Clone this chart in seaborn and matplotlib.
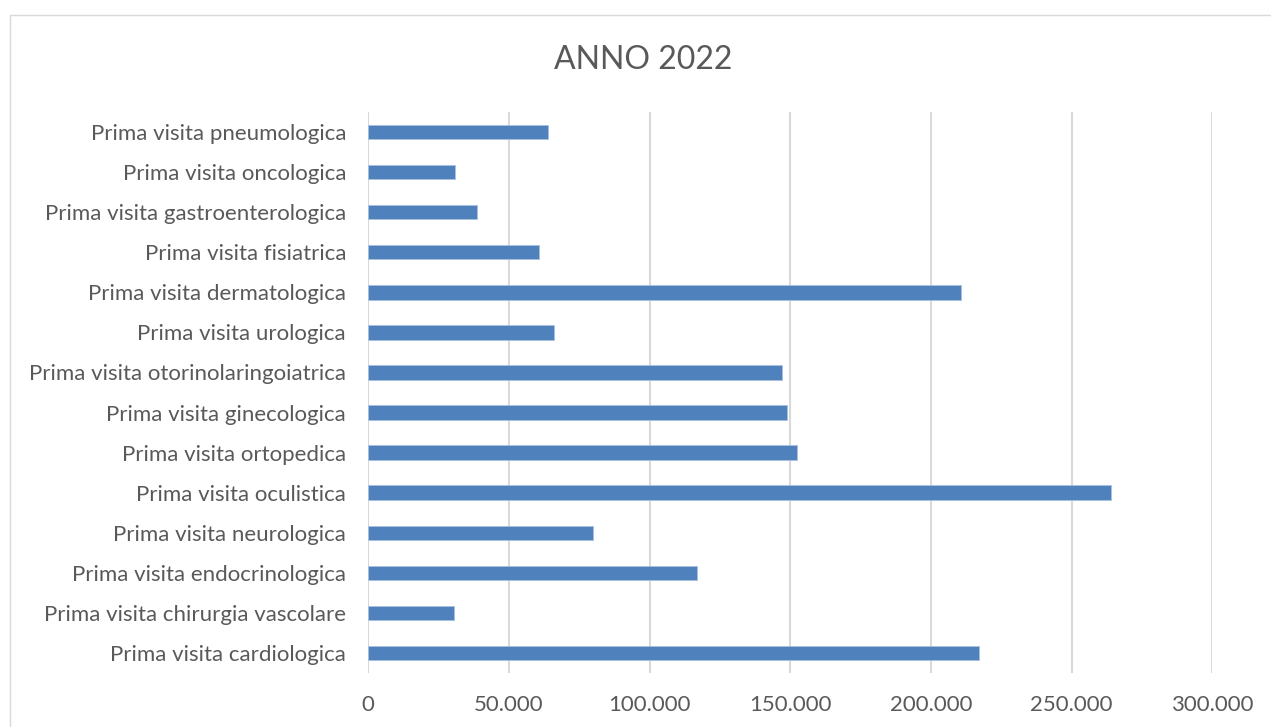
import matplotlib
matplotlib.use("Agg")
import matplotlib.pyplot as plt
import seaborn as sns
import pandas as pd
from matplotlib.lines import Line2D
from matplotlib.ticker import FuncFormatter

categories = [
    "Prima visita pneumologica",
    "Prima visita oncologica",
    "Prima visita gastroenterologica",
    "Prima visita fisiatrica",
    "Prima visita dermatologica",
    "Prima visita urologica",
    "Prima visita otorinolaringoiatrica",
    "Prima visita ginecologica",
    "Prima visita ortopedica",
    "Prima visita oculistica",
    "Prima visita neurologica",
    "Prima visita endocrinologica",
    "Prima visita chirurgia vascolare",
    "Prima visita cardiologica",
]
values = [63970, 30900, 38700, 60650, 210700, 66000, 147000, 148800,
          152350, 263850, 79850, 116900, 30450, 216900]
x_ticks = [0, 50000, 100000, 150000, 200000, 250000, 300000]
title = "ANNO 2022"

df = pd.DataFrame({"cat": categories, "val": values})

sns.set_theme(style="white")
plt.rcParams["font.family"] = ["Lato", "DejaVu Sans"]

text_color = "#595959"
grid_color = "#d9d9d9"
bar_color = "#4f81bd"

fig = plt.figure(figsize=(12.71, 7.27), dpi=100)
ax = fig.add_axes([368.3 / 1271, 54 / 727, (1212.3 - 368.3) / 1271, (673 - 112) / 727])

sns.barplot(data=df, x="val", y="cat", orient="h", order=categories,
            color=bar_color, saturation=1, width=0.36, ax=ax,
            edgecolor="#a9c1df", linewidth=0.6)

ax.set_xlim(0, 300000)
ax.set_xticks(x_ticks)
ax.xaxis.set_major_formatter(FuncFormatter(lambda v, p: f"{int(v):,}".replace(",", ".")))
ax.grid(axis="x", color=grid_color, linewidth=1.5)
ax.set_axisbelow(True)
for s in ax.spines.values():
    s.set_visible(False)
ax.set_xlabel("")
ax.set_ylabel("")
ax.tick_params(axis="x", length=0, pad=16, labelsize=16, labelcolor=text_color)
ax.tick_params(axis="y", length=0, pad=16, labelsize=16, labelcolor=text_color)

fig.text(643 / 1271, 1 - 60 / 727, title, ha="center", va="center",
         fontsize=23, color=text_color)

# chart border
fig.add_artist(Line2D([9.5 / 1271, 9.5 / 1271], [0, 1 - 14.5 / 727],
                      transform=fig.transFigure, color=grid_color, linewidth=1))
fig.add_artist(Line2D([9.5 / 1271, 1], [1 - 14.5 / 727, 1 - 14.5 / 727],
                      transform=fig.transFigure, color=grid_color, linewidth=1))

fig.savefig("out.png", dpi=100, facecolor="white")
